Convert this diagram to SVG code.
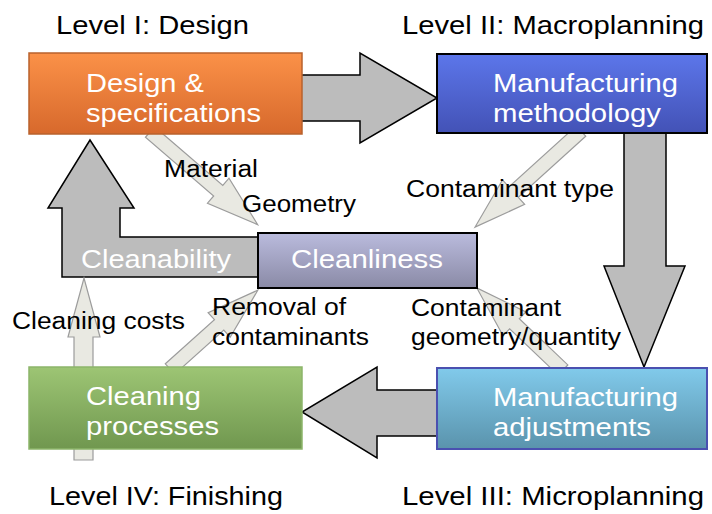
<svg xmlns="http://www.w3.org/2000/svg" width="712" height="514" viewBox="0 0 712 514">
<defs>
<linearGradient id="gOrange" x1="0" y1="0" x2="0" y2="1"><stop offset="0" stop-color="#fb9148"/><stop offset="1" stop-color="#d7692c"/></linearGradient>
<linearGradient id="gBlue" x1="0" y1="0" x2="0" y2="1"><stop offset="0" stop-color="#5c76ea"/><stop offset="1" stop-color="#4352b6"/></linearGradient>
<linearGradient id="gLav" x1="0" y1="0" x2="0" y2="1"><stop offset="0" stop-color="#babbdd"/><stop offset="1" stop-color="#8a8aa6"/></linearGradient>
<linearGradient id="gGreen" x1="0" y1="0" x2="0" y2="1"><stop offset="0" stop-color="#9dc574"/><stop offset="1" stop-color="#70974f"/></linearGradient>
<linearGradient id="gCyan" x1="0" y1="0" x2="0" y2="1"><stop offset="0" stop-color="#81caeb"/><stop offset="1" stop-color="#5a93ac"/></linearGradient>
</defs>
<style>
.big{fill:#bcbcbc;stroke:#000;stroke-width:1.5;stroke-linejoin:miter}
.thin{fill:#e9e9e2;stroke:#9c9c9c;stroke-width:1.2}
text{font-family:"Liberation Sans",Arial,sans-serif}
.lvl{font-size:26px;fill:#000}
.lbl{font-size:23px;fill:#000}
.box{font-size:26px;fill:#fff}
</style>
<g id="connectors">
<polygon id="c-design-mfg" class="big" points="300,75 360,75 360,53 437,98 360,143 360,121 300,121"/>
<polygon id="c-mfg-adj" class="big" points="624,131 666,131 666,266 685,266 644,367 604,266 624,266"/>
<polygon id="c-adj-clean" class="big" points="439,390 377,390 377,367 302,412 377,458 377,436 439,436"/>
<polygon id="c-cleanability" class="big" points="62,277 262,277 262,237 120,237 120,208 134,208 90,140 48,208 62,208"/>
<polygon id="c-material" class="thin" transform="translate(150,132) rotate(40.7)" points="0,-7 90,-7 90,-16.5 142,0 90,16.5 90,7 0,7"/>
<polygon id="c-ctype" class="thin" transform="translate(581,131) rotate(137.8)" points="0,-7 91,-7 91,-16.5 143,0 91,16.5 91,7 0,7"/>
<polygon id="c-cgeo" class="thin" transform="translate(563,370) rotate(223.6)" points="0,-7 67,-7 67,-16.5 119,0 67,16.5 67,7 0,7"/>
<polygon id="c-removal" class="thin" transform="translate(170,369) rotate(-41.9)" points="0,-7 66,-7 66,-16.5 118,0 66,16.5 66,7 0,7"/>
<polygon id="c-costs" class="thin" points="74,460 74,337 68,337 84,278 100,337 93,337 93,460"/>
</g>
<g id="n-design">
<rect x="29" y="53" width="273" height="81" fill="url(#gOrange)" stroke="#b9622c" stroke-width="1.5"/>
<text class="box" x="86" y="92" textLength="118" lengthAdjust="spacingAndGlyphs">Design &amp;</text>
<text class="box" x="86" y="122" textLength="175" lengthAdjust="spacingAndGlyphs">specifications</text>
</g>
<g id="n-method">
<rect x="437" y="54" width="270" height="79" fill="url(#gBlue)" stroke="#000" stroke-width="2"/>
<text class="box" x="493" y="92" textLength="185" lengthAdjust="spacingAndGlyphs">Manufacturing</text>
<text class="box" x="493" y="122" textLength="168" lengthAdjust="spacingAndGlyphs">methodology</text>
</g>
<g id="n-cleanliness">
<rect x="258" y="233" width="219" height="55" fill="url(#gLav)" stroke="#000" stroke-width="2"/>
<text class="box" x="291" y="268" textLength="152" lengthAdjust="spacingAndGlyphs">Cleanliness</text>
</g>
<g id="n-cleanability">
<text class="box" x="81" y="268" textLength="150" lengthAdjust="spacingAndGlyphs">Cleanability</text>
</g>
<g id="n-cleaning">
<rect x="29" y="367" width="273" height="82" fill="url(#gGreen)" stroke="#8cb56a" stroke-width="1.5"/>
<text class="box" x="86" y="405" textLength="115" lengthAdjust="spacingAndGlyphs">Cleaning</text>
<text class="box" x="86" y="435" textLength="133" lengthAdjust="spacingAndGlyphs">processes</text>
</g>
<g id="n-adjust">
<rect x="437" y="368" width="270" height="81" fill="url(#gCyan)" stroke="#4a50b0" stroke-width="2"/>
<text class="box" x="493" y="406" textLength="185" lengthAdjust="spacingAndGlyphs">Manufacturing</text>
<text class="box" x="493" y="436" textLength="158" lengthAdjust="spacingAndGlyphs">adjustments</text>
</g>
<g id="labels">
<text class="lvl" x="56" y="34" textLength="193" lengthAdjust="spacingAndGlyphs">Level I: Design</text>
<text class="lvl" x="402" y="34" textLength="302" lengthAdjust="spacingAndGlyphs">Level II: Macroplanning</text>
<text class="lvl" x="49" y="505" textLength="234" lengthAdjust="spacingAndGlyphs">Level IV: Finishing</text>
<text class="lvl" x="402" y="505" textLength="302" lengthAdjust="spacingAndGlyphs">Level III: Microplanning</text>
<text class="lbl" x="164" y="177" textLength="94" lengthAdjust="spacingAndGlyphs">Material</text>
<text class="lbl" x="242" y="212" textLength="114" lengthAdjust="spacingAndGlyphs">Geometry</text>
<text class="lbl" x="406" y="197" textLength="208" lengthAdjust="spacingAndGlyphs">Contaminant type</text>
<text class="lbl" x="12" y="329" textLength="173" lengthAdjust="spacingAndGlyphs">Cleaning costs</text>
<text class="lbl" x="212" y="315" textLength="134" lengthAdjust="spacingAndGlyphs">Removal of</text>
<text class="lbl" x="212" y="345" textLength="157" lengthAdjust="spacingAndGlyphs">contaminants</text>
<text class="lbl" x="411" y="316" textLength="150" lengthAdjust="spacingAndGlyphs">Contaminant</text>
<text class="lbl" x="411" y="345" textLength="210" lengthAdjust="spacingAndGlyphs">geometry/quantity</text>
</g>
</svg>
